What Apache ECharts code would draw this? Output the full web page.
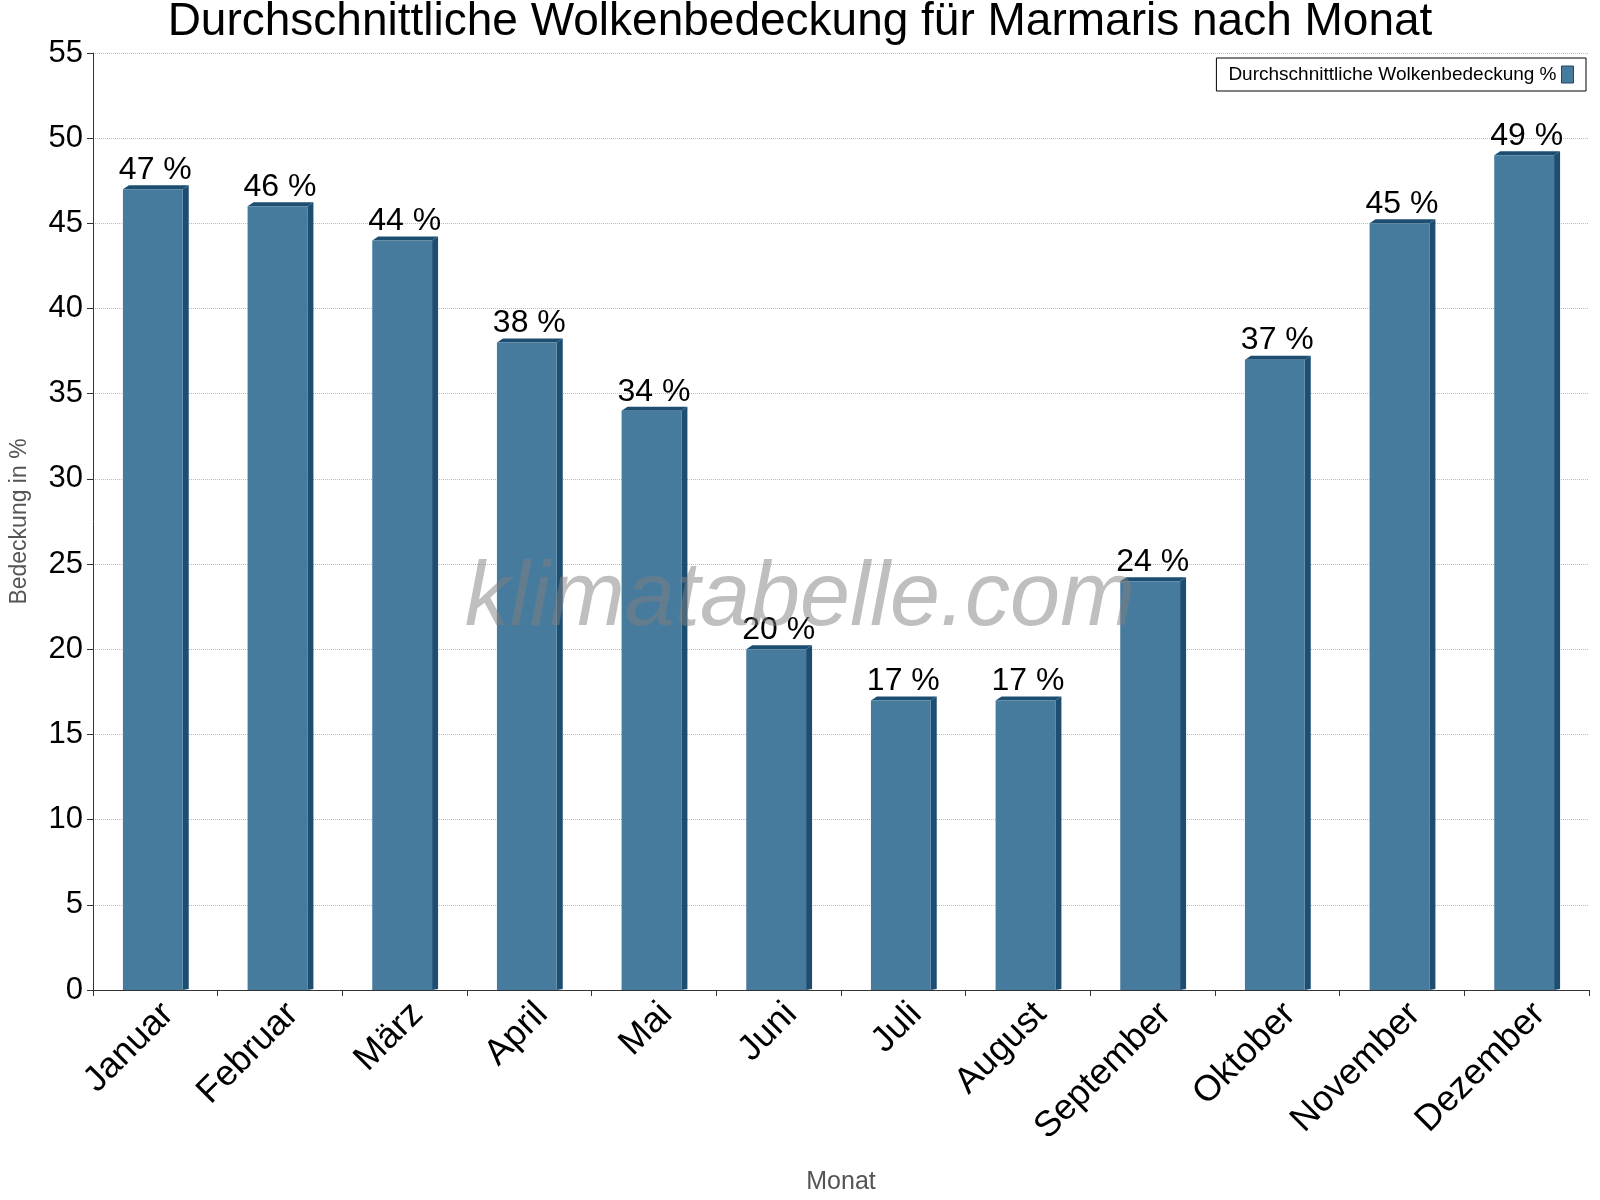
<!DOCTYPE html>
<html><head><meta charset="utf-8">
<script src="https://cdn.jsdelivr.net/npm/echarts@6/dist/echarts.min.js"></script>
<style>html,body{margin:0;padding:0;background:#fff}#c{width:1600px;height:1200px}</style>
</head><body><div id="c"></div>
<script>
const months = ["Januar","Februar","März","April","Mai","Juni","Juli","August","September","Oktober","November","Dezember"];
const cloud = [47,46,44,38,34,20,17,17,24,37,45,49];
const yTicks = [0,5,10,15,20,25,30,35,40,45,50,55];

const chart = echarts.init(document.getElementById('c'));
chart.setOption({
  animation:false,
  backgroundColor:'#fff',
  title:{text:'Durchschnittliche Wolkenbedeckung für Marmaris nach Monat',left:'center',top:-6,
    textStyle:{fontFamily:'Liberation Sans',fontSize:46,fontWeight:'normal',color:'#000'}},
  legend:{right:14,top:58,align:'right',itemWidth:12,itemHeight:17,borderColor:'#000',borderWidth:1,borderRadius:0,
    padding:[7,12],textStyle:{fontFamily:'Liberation Sans',fontSize:19,color:'#000'},
    data:[{name:'Durchschnittliche Wolkenbedeckung %',icon:'rect',itemStyle:{color:'#467b9e',borderColor:'#1a4a6e',borderWidth:1}}]},
  graphic:[{type:'text',left:'center',top:555,z:100,style:{text:'klimatabelle.com',fontFamily:'Liberation Sans',fontStyle:'italic',fontSize:90,fill:'rgba(128,128,128,0.5)'}}],
  grid:{left:86,right:11,top:53,bottom:202},
  xAxis:{type:'category',data:months,name:'Monat',nameLocation:'middle',nameGap:180,
    nameTextStyle:{fontFamily:'Liberation Sans',fontSize:25,color:'#555'},
    axisLine:{lineStyle:{color:'#333'}},axisTick:{show:true,length:6,lineStyle:{color:'#333'}},
    axisLabel:{rotate:45,fontFamily:'Liberation Sans',fontSize:36,color:'#000',margin:6,verticalAlign:'top'}},
  yAxis:{type:'value',min:0,max:55,interval:5,name:'Bedeckung in %',nameLocation:'middle',nameGap:62,
    nameTextStyle:{fontFamily:'Liberation Sans',fontSize:23,color:'#555'},
    axisLine:{show:true,lineStyle:{color:'#333'}},axisTick:{show:true,length:6,lineStyle:{color:'#333'}},
    axisLabel:{fontFamily:'Liberation Sans',fontSize:31,color:'#000',margin:10},
    splitLine:{lineStyle:{color:'#bbb',type:'dotted'}}},
  series:[{name:'Durchschnittliche Wolkenbedeckung %',type:'custom',data:cloud.map((v,i)=>[i,v]),
    itemStyle:{color:'#467b9e'},
    renderItem:function(params,api){
      const i=api.value(0),v=api.value(1);
      const top=api.coord([i,v]),base=api.coord([i,0]);
      const bw=api.size([1,0])[0]*0.52;
      const x0=top[0]-bw/2,x1=top[0]+bw/2-5,d=6;
      return {type:'group',children:[
        {type:'polygon',shape:{points:[[x1,top[1]],[x1+d,top[1]-4],[x1+d,base[1]-1],[x1,base[1]]]},style:{fill:'#1d4e72'}},
        {type:'polygon',shape:{points:[[x0,top[1]],[x0+d,top[1]-4],[x1+d,top[1]-4],[x1,top[1]]]},style:{fill:'#1d4e72'}},
        {type:'rect',shape:{x:x0,y:top[1],width:x1-x0,height:base[1]-top[1]},style:{fill:'#467b9e'}},
        {type:'text',style:{text:v+' %',x:top[0],y:top[1]-3,align:'center',verticalAlign:'bottom',
          font:'32px "Liberation Sans"',fill:'#000'}}
      ]};
    }}]
});
</script></body></html>
